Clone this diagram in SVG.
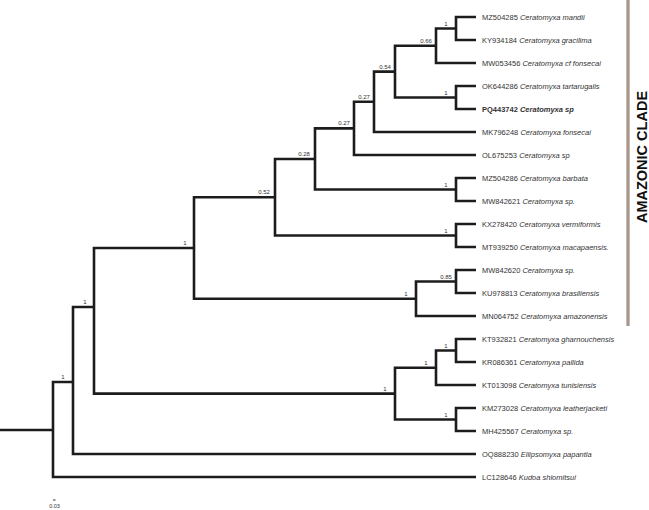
<svg xmlns="http://www.w3.org/2000/svg" width="649" height="510" viewBox="0 0 649 510">
<style>
.br{fill:none;stroke:#1c1c1c;stroke-width:2.6;stroke-linejoin:miter;stroke-linecap:butt}
.tx{font-family:"Liberation Sans",Arial,sans-serif;font-size:7.5px;fill:#333}
.it{font-style:italic}
.sp{font-family:"Liberation Sans",Arial,sans-serif;font-size:6px;fill:#333;text-anchor:middle}
.cl{font-family:"Liberation Sans",Arial,sans-serif;font-size:14.5px;font-weight:bold;fill:#111;text-anchor:middle}
</style>
<rect width="649" height="510" fill="#fff"/>
<g id="connectors">
<path class="br" d="M0,430 H53"/>
<path class="br" d="M94,307 H73 V454 H476"/>
<path class="br" d="M73,382 H53 V477 H476"/>
<path class="br" d="M194,248 H94 V393.6 H395"/>
<path class="br" d="M275,197.2 H194 V298.75 H416"/>
<path class="br" d="M315,159 H275 V235.5 H456"/>
<path class="br" d="M354,128.4 H315 V189.5 H456"/>
<path class="br" d="M374,101.8 H354 V155 H476"/>
<path class="br" d="M395,71.6 H374 V132 H476"/>
<path class="br" d="M436,45.75 H395 V97.5 H456"/>
<path class="br" d="M456,28.5 H436 V63 H476"/>
<path class="br" d="M476,17 H456 V40 H476"/>
<path class="br" d="M476,86 H456 V109 H476"/>
<path class="br" d="M476,178 H456 V201 H476"/>
<path class="br" d="M476,224 H456 V247 H476"/>
<path class="br" d="M456,281.5 H416 V316 H476"/>
<path class="br" d="M476,270 H456 V293 H476"/>
<path class="br" d="M436,367.75 H395 V419.5 H456"/>
<path class="br" d="M456,350.5 H436 V385 H476"/>
<path class="br" d="M476,339 H456 V362 H476"/>
<path class="br" d="M476,408 H456 V431 H476"/>
</g>
<g id="support">
<text class="sp" x="446" y="25.5">1</text>
<text class="sp" x="426" y="42.5">0.66</text>
<text class="sp" x="446" y="94.5">1</text>
<text class="sp" x="385" y="68.5">0.54</text>
<text class="sp" x="364" y="98.5">0.27</text>
<text class="sp" x="344" y="125">0.27</text>
<text class="sp" x="446" y="186.5">1</text>
<text class="sp" x="304" y="156">0.28</text>
<text class="sp" x="446" y="232.5">1</text>
<text class="sp" x="264" y="194">0.52</text>
<text class="sp" x="446" y="278.5">0.85</text>
<text class="sp" x="406" y="295.5">1</text>
<text class="sp" x="185" y="245">1</text>
<text class="sp" x="446" y="347.5">1</text>
<text class="sp" x="426" y="364.5">1</text>
<text class="sp" x="446" y="416.5">1</text>
<text class="sp" x="385" y="390.5">1</text>
<text class="sp" x="85" y="304">1</text>
<text class="sp" x="63" y="379">1</text>
</g>
<g id="taxa">
<text class="tx" x="482" y="19.7">MZ504285 <tspan class="it">Ceratomyxa mandii</tspan></text>
<text class="tx" x="482" y="42.7">KY934184 <tspan class="it">Ceratomyxa gracilima</tspan></text>
<text class="tx" x="482" y="65.7">MW053456 <tspan class="it">Ceratomyxa cf fonsecai</tspan></text>
<text class="tx" x="482" y="88.7">OK644286 <tspan class="it">Ceratomyxa tartarugalis</tspan></text>
<text class="tx" x="482" y="111.7" font-weight="bold" fill="#111">PQ443742 <tspan class="it">Ceratomyxa sp</tspan></text>
<text class="tx" x="482" y="134.7">MK796248 <tspan class="it">Ceratomyxa fonsecai</tspan></text>
<text class="tx" x="482" y="157.7">OL675253 <tspan class="it">Ceratomyxa sp</tspan></text>
<text class="tx" x="482" y="180.7">MZ504286 <tspan class="it">Ceratomyxa barbata</tspan></text>
<text class="tx" x="482" y="203.7">MW842621 <tspan class="it">Ceratomyxa sp.</tspan></text>
<text class="tx" x="482" y="226.7">KX278420 <tspan class="it">Ceratomyxa vermiformis</tspan></text>
<text class="tx" x="482" y="249.7">MT939250 <tspan class="it">Ceratomyxa macapaensis.</tspan></text>
<text class="tx" x="482" y="272.7">MW842620 <tspan class="it">Ceratomyxa sp.</tspan></text>
<text class="tx" x="482" y="295.7">KU978813 <tspan class="it">Ceratomyxa brasiliensis</tspan></text>
<text class="tx" x="482" y="318.7">MN064752 <tspan class="it">Ceratomyxa amazonensis</tspan></text>
<text class="tx" x="482" y="341.7">KT932821 <tspan class="it">Ceratomyxa gharnouchensis</tspan></text>
<text class="tx" x="482" y="364.7">KR086361 <tspan class="it">Ceratomyxa pallida</tspan></text>
<text class="tx" x="482" y="387.7">KT013098 <tspan class="it">Ceratomyxa tunisiensis</tspan></text>
<text class="tx" x="482" y="410.7">KM273028 <tspan class="it">Ceratomyxa leatherjacketi</tspan></text>
<text class="tx" x="482" y="433.7">MH425567 <tspan class="it">Ceratomyxa sp.</tspan></text>
<text class="tx" x="482" y="456.7">OQ888230 <tspan class="it">Ellipsomyxa papantla</tspan></text>
<text class="tx" x="482" y="479.7">LC128646 <tspan class="it">Kudoa shiomitsui</tspan></text>
</g>
<g id="scale">
<line x1="53" y1="500" x2="55.5" y2="500" stroke="#333" stroke-width="1"/>
<text class="sp" x="54.5" y="508" style="font-size:5.5px">0.03</text>
</g>
<g id="clade">
<line x1="628" y1="0" x2="628" y2="326" stroke="#a8978a" stroke-width="3.3"/>
<text class="cl" transform="translate(647,157) rotate(-90)">AMAZONIC CLADE</text>
</g>
</svg>
